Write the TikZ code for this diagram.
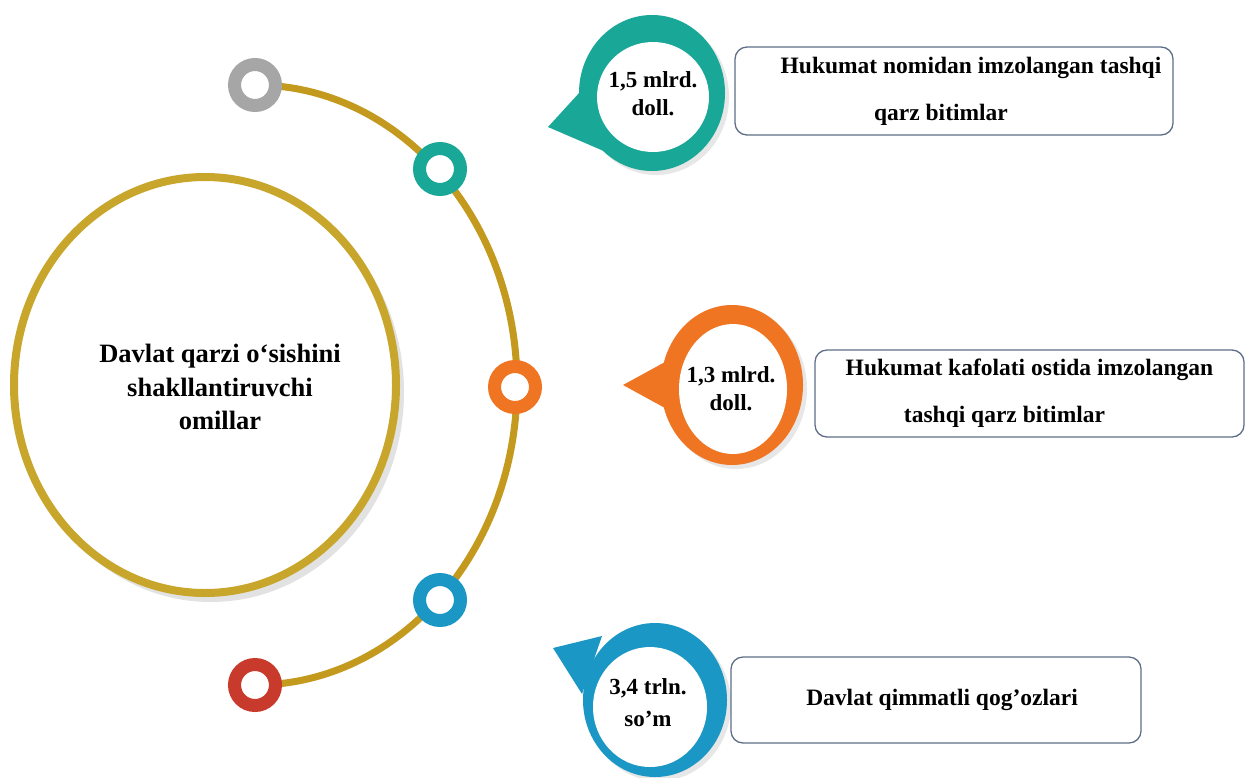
\documentclass[tikz,border=0pt]{standalone}
\usepackage{fontspec}
\setmainfont{Liberation Serif}
\definecolor{goldc}{HTML}{C8A52B}
\definecolor{arcc}{HTML}{C39A1E}
\definecolor{grayc}{HTML}{A6A6A6}
\definecolor{tealc}{HTML}{19A797}
\definecolor{orangec}{HTML}{F07522}
\definecolor{bluec}{HTML}{1A97C4}
\definecolor{redc}{HTML}{C83A2B}
\definecolor{boxc}{HTML}{5D6E86}
\definecolor{shadc}{HTML}{D0D0D0}
\tikzset{
  ringdot/.style={circle, minimum size=41pt, inner sep=0pt, line width=13pt, draw=#1, fill=white},
  infobox/.style={draw=boxc, line width=1.3pt, rounded corners=12pt, fill=white, align=center,
     inner sep=0pt, font=\bfseries\fontsize{23.5}{47}\selectfont},
  bubtext/.style={align=center, inner sep=0pt, font=\bfseries\fontsize{23}{28}\selectfont},
  arcline/.style={draw=arcc, line width=7pt}
}
\begin{document}
\begin{tikzpicture}[x=1pt,y=-1pt]
\useasboundingbox (0,0) rectangle (1246,777);
\fill[white] (0,0) rectangle (1246,777);

% big circle with soft shadow
\fill[shadc, opacity=0.6] (211,392) ellipse[x radius=193pt, y radius=210pt];
\draw[goldc, line width=8pt, fill=white] (205,385) ellipse[x radius=191pt, y radius=208pt];
\node[align=center, inner sep=0pt, font=\bfseries\fontsize{26.5}{33.5}\selectfont] (center)
  at (220,387) {Davlat qarzi o‘sishini\\shakllantiruvchi\\omillar};

% arc through the ring dots
\coordinate (arcstart) at (255,85);
\draw[arcline] (arcstart) arc[start angle=90, end angle=-90, x radius=262pt, y radius=300pt];

\node[ringdot=grayc]   (rgray)   at (255,85)  {};
\node[ringdot=tealc]   (rteal)   at (440,169) {};
\node[ringdot=orangec] (rorange) at (515,387) {};
\node[ringdot=bluec]   (rblue)   at (440,600) {};
\node[ringdot=redc]    (rred)    at (255,685) {};

% teal bubble
\fill[shadc, opacity=0.5] (656,97) ellipse[x radius=73pt, y radius=78pt];
\fill[tealc] (548,127) -- (580,92) -- (606,152) -- cycle;
\fill[tealc] (652,93) ellipse[x radius=73pt, y radius=78pt];
\fill[white] (653,97) ellipse[x radius=56pt, y radius=55pt];
\node[bubtext] (b1) at (653,94) {1,5 mlrd.\\doll.};

% orange bubble
\fill[shadc, opacity=0.5] (736,389) ellipse[x radius=71pt, y radius=80pt];
\fill[orangec] (623,385) -- (676,356) -- (676,414) -- cycle;
\fill[orangec] (732,385) ellipse[x radius=71pt, y radius=80pt];
\fill[white] (733,389) ellipse[x radius=54pt, y radius=65pt];
\node[bubtext] (b2) at (731,389) {1,3 mlrd.\\doll.};

% blue bubble
\fill[shadc, opacity=0.5] (659,704) ellipse[x radius=72pt, y radius=77pt];
\fill[bluec] (553,648) -- (602,636) -- (582,694) -- cycle;
\fill[bluec] (655,700) ellipse[x radius=72pt, y radius=77pt];
\fill[white] (650,707) ellipse[x radius=57pt, y radius=60pt];
\node[bubtext, font=\bfseries\fontsize{23}{32}\selectfont] (b3) at (648,703) {3,4 trln.\\so’m};

% boxes
\node[infobox, minimum width=438pt, minimum height=88pt] (box1) at (954,91)
  {\hspace*{34pt}Hukumat nomidan imzolangan tashqi\\qarz bitimlar\hspace*{26pt}};
\node[infobox, minimum width=429pt, minimum height=87pt] (box2) at (1029.5,393.5)
  {Hukumat kafolati ostida imzolangan\\tashqi qarz bitimlar\hspace*{50pt}};
\node[infobox, minimum width=410pt, minimum height=86pt] (box3) at (936,700)
  {\hspace*{12pt}Davlat qimmatli qog’ozlari};
\end{tikzpicture}
\end{document}
